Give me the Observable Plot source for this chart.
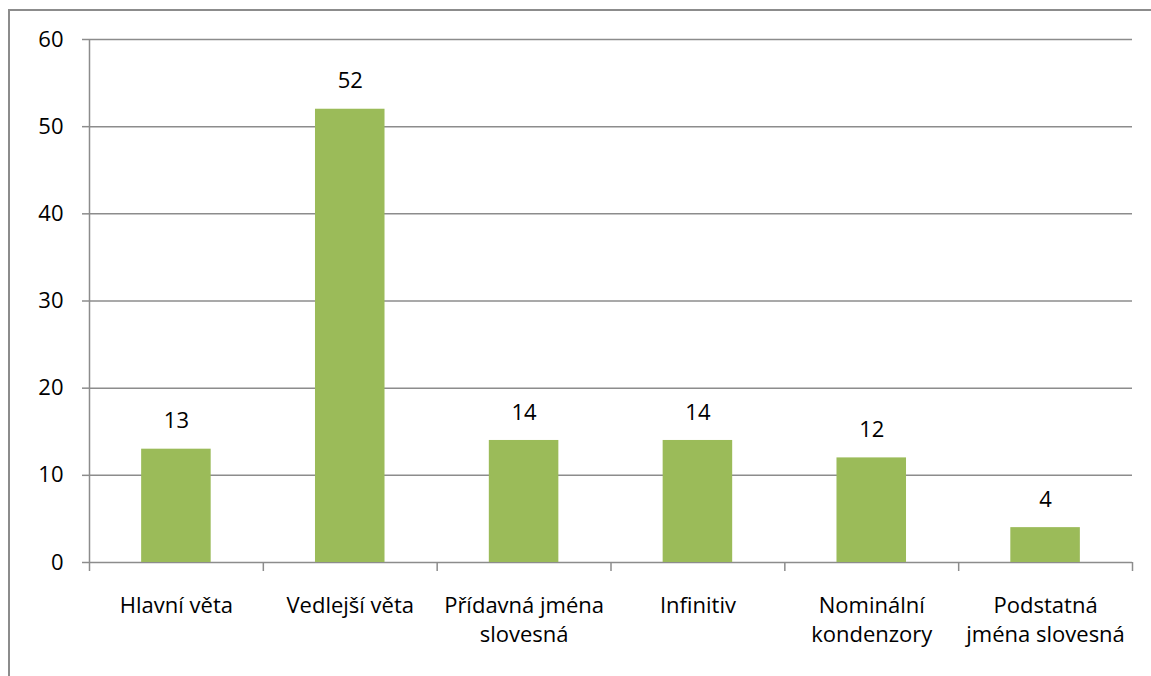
<!DOCTYPE html>
<html><head><meta charset="utf-8">
<script src="https://cdn.jsdelivr.net/npm/d3@7"></script>
<script src="https://cdn.jsdelivr.net/npm/@observablehq/plot@0.6"></script>
<style>
html,body{margin:0;padding:0;background:#fff;overflow:hidden;width:1151px;height:676px;}
#frame{position:absolute;left:8px;top:9px;width:1200px;height:720px;border:2px solid #8c8c8c;box-sizing:border-box;}
#chart{position:absolute;left:0;top:0;}
</style></head>
<body>
<div id="frame"></div>
<div id="chart"></div>
<script>
const categories = ["Hlavní věta","Vedlejší věta","Přídavná jména\nslovesná","Infinitiv","Nominální\nkondenzory","Podstatná\njména slovesná"];
const values = [13,52,14,14,12,4];
const yTicks = [0,10,20,30,40,50,60];

const data = categories.map((c,i)=>({cat:c, i, v:values[i]}));
const grid = "#8c8c8c";
const font = "'Open Sans', sans-serif";
const fs = 22;

const chart = Plot.plot({
  width:1151, height:676,
  marginLeft:89, marginRight:19, marginTop:39, marginBottom:114,
  style:{fontFamily:font, fontSize:fs+"px", color:"#000", background:"transparent"},
  x:{domain:[0,categories.length], axis:null},
  y:{domain:[0,60], axis:null},
  marks:[
    Plot.ruleY(yTicks,{stroke:grid, strokeWidth:1.5}),
    Plot.axisY({ticks:yTicks, tickSize:7, tickPadding:19, stroke:grid, strokeWidth:1.5, strokeOpacity:1, fontSize:fs, label:null}),
    Plot.ruleX([0],{stroke:grid, strokeWidth:1.5}),
    Plot.rectY(data,{x1:d=>d.i+0.3, x2:d=>d.i+0.7, y:"v", fill:"#9bbb59"}),
    Plot.axisX({ticks:d3.range(categories.length+1), tickSize:9, tickFormat:()=>"", stroke:grid, strokeWidth:1.5, strokeOpacity:1, label:null}),
    Plot.text(data,{x:d=>d.i+0.5, y:"v", text:d=>String(d.v), dy:-28, fontSize:fs, fill:"#000"}),
    Plot.text(data,{x:d=>d.i+0.5, y:0, text:"cat", dy:30, lineAnchor:"top", lineHeight:29/fs, fontSize:fs, fill:"#000"})
  ]
});
document.getElementById("chart").appendChild(chart);
</script>
</body></html>
